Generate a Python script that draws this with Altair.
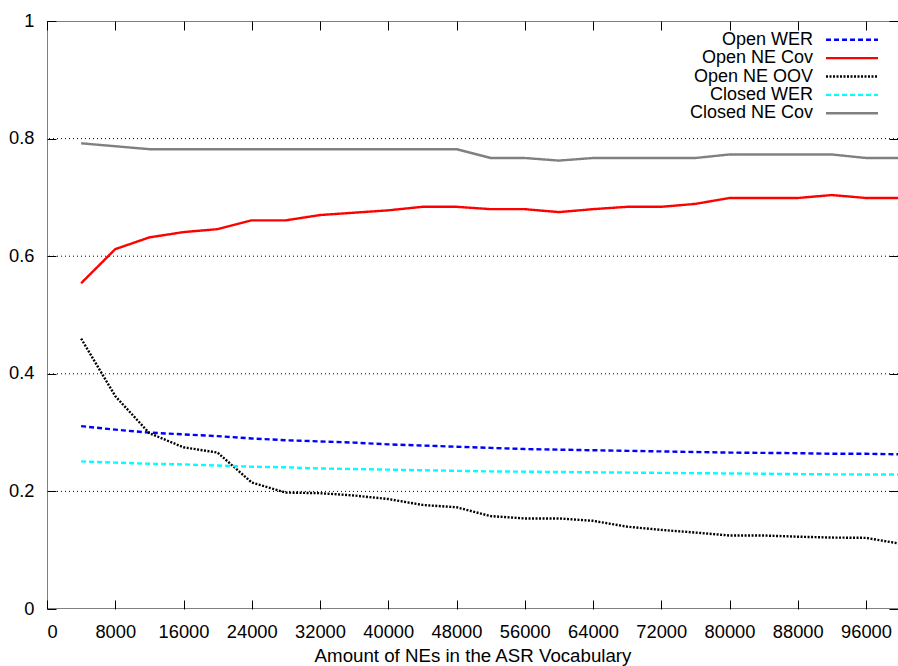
import altair as alt
import pandas as pd

# Vocabulary sizes (number of named entities added to the ASR vocabulary)
vocab_size = [4000, 8000, 12000, 16000, 20000, 24000, 28000, 32000, 36000,
              40000, 44000, 48000, 52000, 56000, 60000, 64000, 68000, 72000,
              76000, 80000, 84000, 88000, 92000, 96000, 100000]

open_wer = [0.311, 0.305, 0.300, 0.297, 0.294, 0.290, 0.287, 0.285, 0.283,
            0.280, 0.278, 0.276, 0.274, 0.272, 0.271, 0.270, 0.269, 0.268,
            0.267, 0.266, 0.2655, 0.265, 0.264, 0.264, 0.263]
open_ne_cov = [0.554, 0.612, 0.632, 0.641, 0.646, 0.661, 0.661, 0.670, 0.674,
               0.678, 0.684, 0.684, 0.680, 0.680, 0.675, 0.680, 0.684, 0.684,
               0.689, 0.699, 0.699, 0.699, 0.704, 0.699, 0.699]
open_ne_oov = [0.460, 0.362, 0.299, 0.275, 0.266, 0.215, 0.198, 0.197, 0.193,
               0.187, 0.177, 0.173, 0.158, 0.154, 0.154, 0.150, 0.140, 0.1345,
               0.130, 0.125, 0.125, 0.123, 0.1215, 0.121, 0.111]
closed_wer = [0.251, 0.249, 0.247, 0.246, 0.244, 0.242, 0.241, 0.239, 0.238,
              0.237, 0.236, 0.235, 0.234, 0.2335, 0.233, 0.2325, 0.232, 0.2315,
              0.231, 0.2305, 0.230, 0.2295, 0.229, 0.2288, 0.2286]
closed_ne_cov = [0.792, 0.787, 0.782, 0.782, 0.782, 0.782, 0.782, 0.782, 0.782,
                 0.782, 0.782, 0.782, 0.767, 0.767, 0.7626, 0.767, 0.767, 0.767,
                 0.767, 0.773, 0.773, 0.773, 0.773, 0.767, 0.767]

series_names = ["Open WER", "Open NE Cov", "Open NE OOV", "Closed WER", "Closed NE Cov"]
series_values = [open_wer, open_ne_cov, open_ne_oov, closed_wer, closed_ne_cov]
series_colors = ["#0000ff", "#ff0000", "#000000", "#00ffff", "#808080"]
series_dashes = [[5, 3], [1, 0], [2, 1.5], [5, 3], [1, 0]]

x_ticks = [0, 8000, 16000, 24000, 32000, 40000, 48000, 56000, 64000, 72000,
           80000, 88000, 96000]
y_ticks = [0, 0.2, 0.4, 0.6, 0.8, 1]
grid_levels = [0.2, 0.4, 0.6, 0.8]

FONT = "Liberation Sans"
X_MAX = 99750

rows = []
for name, vals in zip(series_names, series_values):
    for xv, yv in zip(vocab_size, vals):
        rows.append({"size": xv, "value": yv, "series": name})
lines_df = pd.DataFrame(rows)

legend_df = pd.DataFrame({"series": series_names, "row": list(range(len(series_names)))})
frame_df = pd.DataFrame({"x0": [0, 0, 0], "x1": [0, 100000, 100000],
                         "y0": [0, 0, 1], "y1": [1, 0, 1]})
grid_df = pd.DataFrame({"level": grid_levels})

xscale = alt.Scale(domain=[0, X_MAX], nice=False, zero=False)
yscale = alt.Scale(domain=[0, 1], nice=False)
color_scale = alt.Scale(domain=series_names, range=series_colors)
dash_scale = alt.Scale(domain=series_names, range=series_dashes)

grid = alt.Chart(grid_df).mark_rule(color="black", strokeWidth=1, strokeDash=[1, 3]).encode(
    y=alt.Y("level:Q", scale=yscale, axis=None)
)

lines = alt.Chart(lines_df).mark_line(strokeWidth=2.4, clip=True).encode(
    x=alt.X("size:Q", scale=xscale,
            axis=alt.Axis(orient="bottom", values=x_ticks, format="d", offset=-9,
                          tickSize=9, labelPadding=14, domain=False, grid=False,
                          title="Amount of NEs in the ASR Vocabulary", titlePadding=6,
                          titleFontSize=18.7)),
    y=alt.Y("value:Q", scale=yscale,
            axis=alt.Axis(orient="left", values=y_ticks, format="~g", offset=-9,
                          tickSize=9, labelPadding=13, domain=False, grid=False,
                          title=None)),
    color=alt.Color("series:N", scale=color_scale, legend=None),
    strokeDash=alt.StrokeDash("series:N", scale=dash_scale, legend=None),
)

frame = alt.Chart(frame_df).mark_rule(color="black", strokeWidth=1, clip=True).encode(
    x=alt.X("x0:Q", scale=xscale,
            axis=alt.Axis(orient="top", values=x_ticks, offset=-9, tickSize=9,
                          labels=False, domain=False, grid=False, title=None)),
    x2="x1:Q",
    y=alt.Y("y0:Q", scale=yscale,
            axis=alt.Axis(orient="right", values=y_ticks, offset=-9, tickSize=9,
                          labels=False, domain=False, grid=False, title=None)),
    y2="y1:Q",
)

legend_base = alt.Chart(legend_df).transform_calculate(py="18.7 + 18.4 * datum.row")

legend_text = legend_base.mark_text(align="right", baseline="middle", fontSize=18,
                                    font=FONT, color="black").encode(
    x=alt.value(766),
    y=alt.Y("py:Q", scale=None, axis=None),
    text="series:N",
)

legend_lines = legend_base.mark_rule(strokeWidth=2.4).encode(
    x=alt.value(779),
    x2=alt.value(831),
    y=alt.Y("py:Q", scale=None, axis=None),
    color=alt.Color("series:N", scale=color_scale, legend=None),
    strokeDash=alt.StrokeDash("series:N", scale=dash_scale, legend=None),
)

chart = alt.layer(grid, lines, frame, legend_text, legend_lines).resolve_axis(
    x="independent", y="independent"
).properties(
    width=851,
    height=588,
    padding={"left": 47, "top": 21, "right": 0, "bottom": 57},
    autosize="none",
    background="white",
).configure_view(
    stroke=None
).configure_axis(
    labelFont=FONT,
    labelFontSize=18.3,
    labelColor="black",
    tickColor="black",
    tickWidth=1,
    titleFont=FONT,
    titleFontSize=18.7,
    titleFontWeight="normal",
    titleColor="black",
)

chart.save("out.html", embed_options={"renderer": "svg", "actions": False})
